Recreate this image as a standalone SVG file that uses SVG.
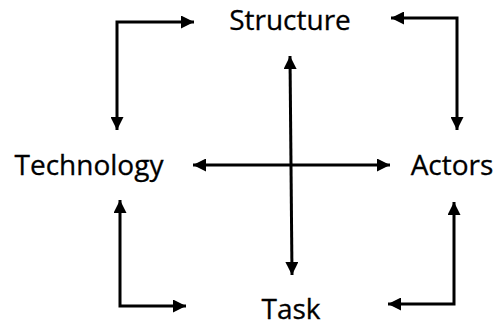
<svg xmlns="http://www.w3.org/2000/svg" width="503" height="323" viewBox="0 0 503 323">
  <style>
    .label { font-family: "Open Sans", "Liberation Sans", sans-serif; font-size: 28px; fill: #000; stroke: #000; stroke-width: 0.3; text-anchor: middle; }
    .link2 { fill: none; stroke: #000; stroke-width: 3; marker-start: url(#headStart); marker-end: url(#head); }
  </style>
  <defs>
    <marker id="head" viewBox="0 0 10 10" refX="10" refY="5" markerUnits="userSpaceOnUse" markerWidth="14" markerHeight="13" orient="auto">
      <path d="M0,0 L10,5 L0,10 Z" fill="#000"/>
    </marker>
    <marker id="headStart" viewBox="0 0 10 10" refX="0" refY="5" markerUnits="userSpaceOnUse" markerWidth="14" markerHeight="13" orient="auto">
      <path d="M10,0 L0,5 L10,10 Z" fill="#000"/>
    </marker>
  </defs>
  <rect width="503" height="323" fill="#fff"/>

  <g id="connectors">
    <!-- Technology <-> Structure -->
    <path class="link2" d="M117,130 L117,22 L194,22" />
    <!-- Structure <-> Actors -->
    <path class="link2" d="M391,18 L457,18 L457,130" />
    <!-- Technology <-> Task -->
    <path class="link2" d="M120,200 L120,306 L186,306" />
    <!-- Actors <-> Task -->
    <path class="link2" d="M454,202 L454,304 L388,304" />
    <!-- Structure <-> Task -->
    <path class="link2" d="M290,56 L292,275" />
    <!-- Technology <-> Actors -->
    <path class="link2" d="M193,165 L390,165" />
  </g>

  <g id="structure"><text class="label" x="290" y="30">Structure</text></g>
  <g id="technology"><text class="label" x="89" y="175">Technology</text></g>
  <g id="actors"><text class="label" x="452" y="175">Actors</text></g>
  <g id="task"><text class="label" x="291" y="319">Task</text></g>
</svg>
